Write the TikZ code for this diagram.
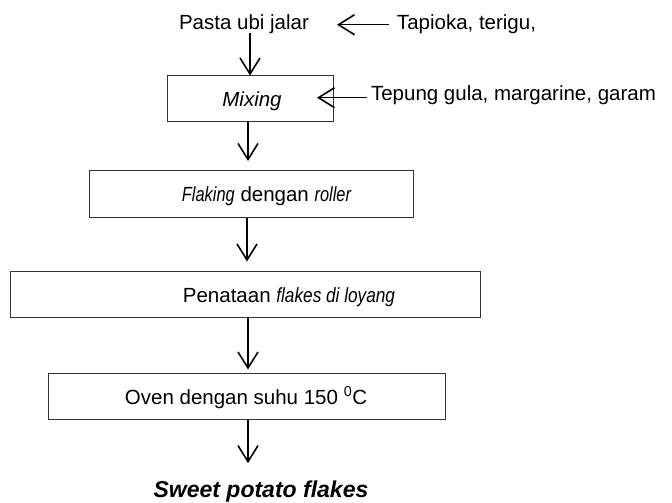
\documentclass[tikz,border=0pt]{standalone}
\usepackage{fontspec}
\setmainfont{Liberation Sans}
\usetikzlibrary{arrows.meta}
\newcommand\narrowit[2]{\scalebox{#1}[1]{\itshape #2}}
\begin{document}
\begin{tikzpicture}[x=1pt,y=-1pt,
  txt/.style={inner sep=0pt,anchor=base,font=\fontsize{20.5}{24}\selectfont},
  procbox/.style={draw=black!80,line width=1pt,inner sep=0pt,minimum width=#1},
  arr/.style={line width=1.6pt,-{Straight Barb[length=16pt,width=20pt,line width=1.6pt]}}]
\useasboundingbox (0,0) rectangle (672,503);
% text nodes
\node[txt] (pasta) at (244,30) {Pasta ubi jalar};
\node[txt] (tap) at (466.5,30) {Tapioka, terigu,};
\node[txt] (tep) at (513.5,100) {Tepung gula, margarine, garam};
% boxes
\node[procbox=166pt,minimum height=45pt] (mix) at (250,98.5) {};
\node[procbox=324pt,minimum height=47pt] (flk) at (251,194) {};
\node[procbox=470pt,minimum height=46pt] (pen) at (245,294) {};
\node[procbox=397pt,minimum height=46pt] (ovn) at (246.5,396) {};
% box texts
\node[txt] (mixt) at (252,106.5) {\itshape Mixing};
\node[txt] (flkt) at (266.5,201) {\narrowit{0.8}{Flaking} dengan \narrowit{0.8}{roller}};
\node[txt] (pent) at (289,302.5) {Penataan \narrowit{0.84}{flakes di loyang}};
\node[txt] (ovnt) at (246,404) {Oven dengan suhu 150 \textsuperscript{0}C};
\node[txt,font=\fontsize{23}{27}\selectfont\bfseries\itshape] (out) at (261,497) {Sweet potato flakes};
% free ends
\coordinate (taptip) at (337,25);
\coordinate (teptip) at (317,97);
% connectors
\draw[arr] ([xshift=-8pt]tap.west) -- (tap.west -| taptip);
\draw[arr] ([xshift=-4pt,yshift=-3pt]tep.west) -- ([yshift=-3pt]tep.west -| teptip);
\draw[arr] (mix.north |- 0,33) -- (mix.north);
\draw[arr] (mix.south -| 248,0) -- ([yshift=9pt]flk.north -| 248,0);
\draw[arr] (flk.south -| 247,0) -- ([yshift=9pt]pen.north -| 247,0);
\draw[arr] (pen.south -| 248,0) -- ([yshift=3pt]ovn.north -| 248,0);
\draw[arr] (ovn.south -| 248,0) -- ([yshift=17pt]out.north -| 248,0);
\end{tikzpicture}
\end{document}
